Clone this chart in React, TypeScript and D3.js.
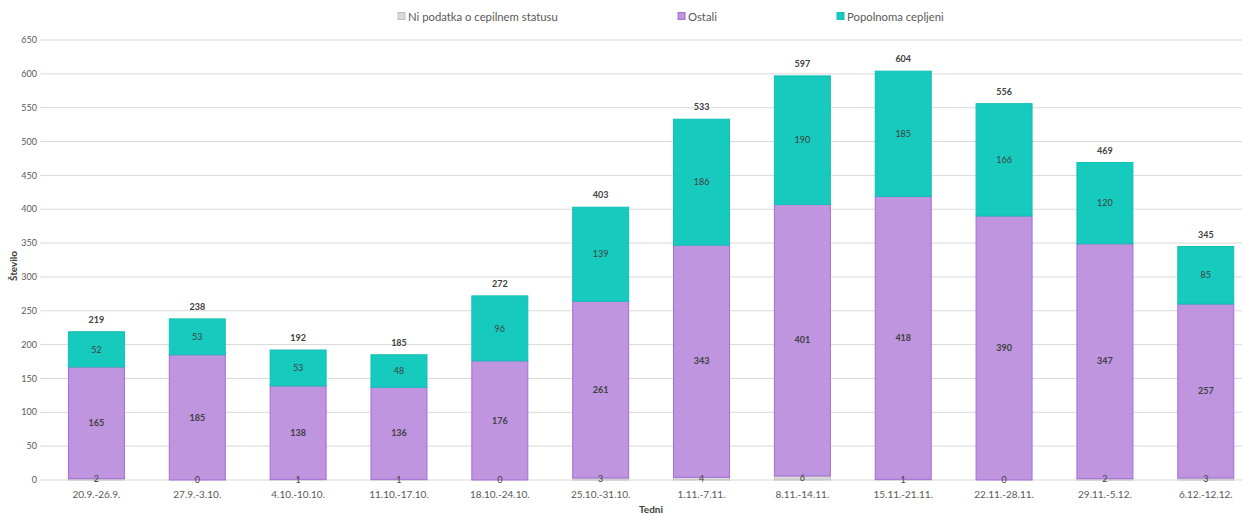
import React from "react";
import * as d3 from "d3";

const categories = ["20.9.-26.9.", "27.9.-3.10.", "4.10.-10.10.", "11.10.-17.10.", "18.10.-24.10.", "25.10.-31.10.", "1.11.-7.11.", "8.11.-14.11.", "15.11.-21.11.", "22.11.-28.11.", "29.11.-5.12.", "6.12.-12.12."];
const noData = [2, 0, 1, 1, 0, 3, 4, 6, 1, 0, 2, 3];
const others = [165, 185, 138, 136, 176, 261, 343, 401, 418, 390, 347, 257];
const vaccinated = [52, 53, 53, 48, 96, 139, 186, 190, 185, 166, 120, 85];
const yTicks = [0, 50, 100, 150, 200, 250, 300, 350, 400, 450, 500, 550, 600, 650];
const seriesNames = ["Ni podatka o cepilnem statusu", "Ostali", "Popolnoma cepljeni"];

const W = 1242;
const H = 515;
const FONT = "Lato, 'Open Sans', sans-serif";
const fills = ["#D9D9D9", "#BF95DF", "#17CABE"];
const strokes = ["#BFBFBF", "#A56CD6", "#12BFB3"];

export default function App() {
  const left = 46;
  const step = 100.85;
  const x = d3.scaleBand<string>().domain(categories).range([left, left + step * categories.length]).paddingInner(0.435).paddingOuter(0.2175);
  const y = d3.scaleLinear().domain([0, 650]).range([480, 40]);
  const rows = categories.map((c, i) => ({ c, n: noData[i], o: others[i], v: vaccinated[i] }));
  const stack = d3.stack<any>().keys(["n", "o", "v"])(rows as any);
  const legendX = [398, 678, 837];

  return (
    <svg width={W} height={H} style={{ position: "fixed", left: 0, top: 0, background: "#fff" }} fontFamily={FONT}>
      {yTicks.map((t) => (
        <g key={t}>
          <line x1={left - 6} x2={W} y1={y(t)} y2={y(t)} stroke="#D9D9D9" strokeWidth={1} />
          <text x={37} y={y(t)} dy="0.35em" textAnchor="end" fontSize={9} fill="#595959">{t}</text>
        </g>
      ))}
      {stack.map((s, si) => (
        <g key={si}>
          {s.map((d, i) => (
            <rect key={i} x={x(categories[i])! + 0.5} width={x.bandwidth() - 1} y={y(d[1])} height={Math.max(0, y(d[0]) - y(d[1]))}
              fill={fills[si]} stroke={strokes[si]} strokeWidth={1} />
          ))}
        </g>
      ))}
      {stack.map((s, si) => (
        <g key={"l" + si}>
          {s.map((d, i) => (
            <text key={i} x={x(categories[i])! + x.bandwidth() / 2} y={(y(d[0]) + y(d[1])) / 2} dy="0.35em" textAnchor="middle"
              fontSize={9} fill="#404040" fontWeight={si === 1 ? "bold" : "normal"}>{d[1] - d[0]}</text>
          ))}
        </g>
      ))}
      {rows.map((r, i) => (
        <text key={"t" + i} x={x(r.c)! + x.bandwidth() / 2} y={y(r.n + r.o + r.v) - 12} dy="0.35em" textAnchor="middle"
          fontSize={9} fontWeight="bold" fill="#404040">{r.n + r.o + r.v}</text>
      ))}
      {categories.map((c) => (
        <text key={c} x={x(c)! + x.bandwidth() / 2} y={494} dy="0.35em" textAnchor="middle" fontSize={10} fill="#595959">{c}</text>
      ))}
      <text x={651} y={509} dy="0.35em" textAnchor="middle" fontSize={10} fontWeight="bold" fill="#404040">Tedni</text>
      <text transform={`translate(13,266) rotate(-90)`} textAnchor="middle" dy="0.35em" fontSize={10} fontWeight="bold" fill="#404040">Število</text>
      {seriesNames.map((n, i) => (
        <g key={n}>
          <rect x={legendX[i]} y={12.5} width={7} height={7} fill={fills[i]} stroke={strokes[i]} strokeWidth={1} />
          <text x={legendX[i] + 10} y={17} dy="0.35em" fontSize={11.3} fill="#595959">{n}</text>
        </g>
      ))}
    </svg>
  );
}
